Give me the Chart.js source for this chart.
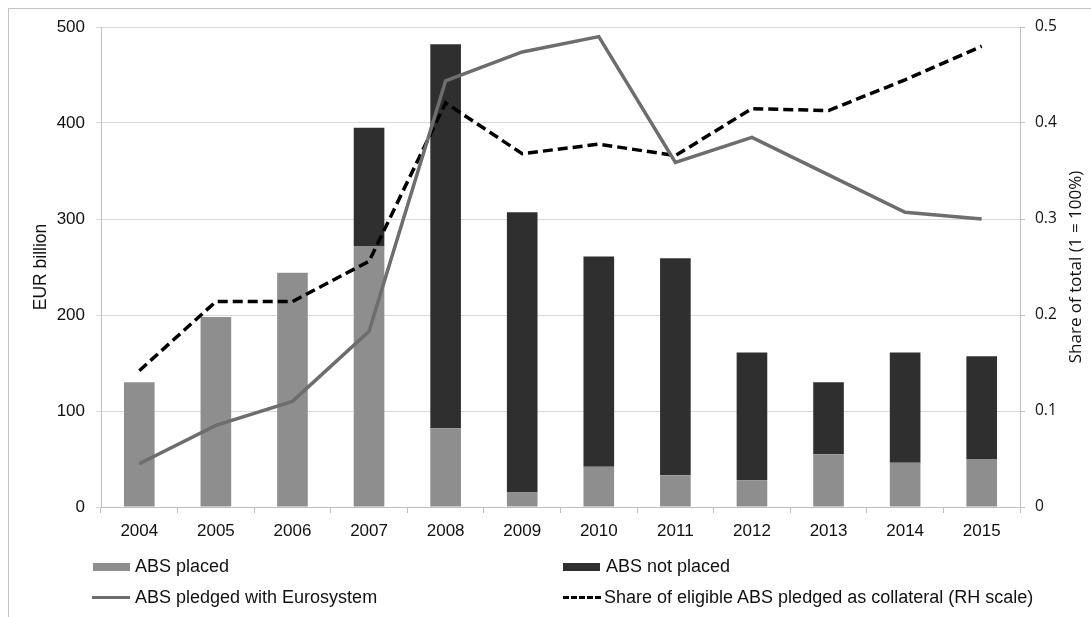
<!DOCTYPE html>
<html>
<head>
<meta charset="utf-8">
<script src="https://cdn.jsdelivr.net/npm/chart.js@4.4.0/dist/chart.umd.min.js"></script>
<style>
    body { margin: 0; background: #fff; }
    #wrap { position: relative; width: 1091px; height: 617px; overflow: hidden; }
    #frame { position: absolute; left: 8px; top: 8px; width: 1200px; height: 700px;
             border-top: 1px solid #c4c4c4; border-left: 1px solid #c4c4c4; }
    canvas { position: absolute; left: 0; top: 0; }
    .leg { position: absolute; font: 18px "Liberation Sans", Arial, sans-serif; color: #111;
           display: flex; align-items: center; white-space: nowrap; }
    .leg .box { width: 37px; height: 8px; margin-right: 5px; }
    .leg .ln { width: 38px; height: 0; margin-right: 5px; }
</style>
</head>
<body>
<div id="wrap">
    <div id="frame"></div>
    <canvas id="absChart" width="1091" height="617"></canvas>
    <div class="leg" style="left:93px; top:556px;"><span class="box" style="background:#8e8e8e"></span>ABS placed</div>
    <div class="leg" style="left:563px; top:556px;"><span class="box" style="background:#2f2f2f; margin-right:6px"></span>ABS not placed</div>
    <div class="leg" style="left:92px; top:587px;"><span class="ln" style="border-top:3px solid #6d6d6d"></span>ABS pledged with Eurosystem</div>
    <div class="leg" style="left:563px; top:587px;"><span class="ln" style="border-top:3px dashed #000; width:38px; margin-right:3px"></span>Share of eligible ABS pledged as collateral (RH scale)</div>
</div>
<script>
const years = ['2004', '2005', '2006', '2007', '2008', '2009', '2010', '2011', '2012', '2013', '2014', '2015'];
const absPlaced = [130, 198, 244, 272, 82, 15, 42, 33, 28, 55, 46, 50];
const absNotPlaced = [0, 0, 0, 123, 400, 292, 219, 226, 133, 75, 115, 107];
const absPledged = [45, 85, 110, 183, 444, 474, 490, 359, 385, 346, 307, 300];
const sharePledged = [0.142, 0.214, 0.214, 0.256, 0.421, 0.368, 0.378, 0.366, 0.415, 0.413, 0.445, 0.480];

const arial = '"Liberation Sans", Arial, sans-serif';
const openSans = '"Open Sans", sans-serif';

// titre de droite, lu de bas en haut
const rightTitle = {
    id: 'rightTitle',
    afterDraw(chart) {
        const { ctx, chartArea } = chart;
        ctx.save();
        ctx.translate(1076, (chartArea.top + chartArea.bottom) / 2);
        ctx.rotate(-Math.PI / 2);
        ctx.font = '17px ' + openSans;
        ctx.fillStyle = '#111';
        ctx.textAlign = 'center';
        ctx.textBaseline = 'middle';
        ctx.fillText('Share of total (1 = 100%)', 0, 0);
        ctx.restore();
    }
};

new Chart(document.getElementById('absChart').getContext('2d'), {
    data: {
        labels: years,
        datasets: [
            {
                type: 'line',
                label: 'ABS pledged with Eurosystem',
                data: absPledged,
                yAxisID: 'y',
                stack: 'pledged',
                borderColor: '#6d6d6d',
                borderWidth: 3.5,
                pointRadius: 0,
                tension: 0,
                order: 0
            },
            {
                type: 'line',
                label: 'Share of eligible ABS pledged as collateral (RH scale)',
                data: sharePledged,
                yAxisID: 'y1',
                borderColor: '#000',
                borderWidth: 3.5,
                borderDash: [10, 5],
                pointRadius: 0,
                tension: 0,
                order: 0
            },
            {
                type: 'bar',
                label: 'ABS placed',
                data: absPlaced,
                yAxisID: 'y',
                stack: 'abs',
                backgroundColor: '#8e8e8e',
                barPercentage: 0.4,
                categoryPercentage: 1,
                order: 1
            },
            {
                type: 'bar',
                label: 'ABS not placed',
                data: absNotPlaced,
                yAxisID: 'y',
                stack: 'abs',
                backgroundColor: '#2f2f2f',
                barPercentage: 0.4,
                categoryPercentage: 1,
                order: 1
            }
        ]
    },
    options: {
        responsive: false,
        animation: false,
        layout: { padding: { top: 27, bottom: 70, left: 0, right: 0 } },
        plugins: {
            legend: { display: false },
            tooltip: { enabled: false }
        },
        scales: {
            x: {
                stacked: true,
                offset: true,
                grid: { offset: true, drawOnChartArea: false, drawTicks: true, tickLength: 6, color: '#bfbfbf' },
                border: { color: '#bfbfbf' },
                ticks: { color: '#111', font: { family: arial, size: 17 }, padding: 8, maxRotation: 0 },
                afterFit: s => { s.height = 40; }
            },
            y: {
                position: 'left',
                stacked: true,
                min: 0,
                max: 500,
                ticks: { stepSize: 100, color: '#111', font: { family: arial, size: 17 }, padding: 11 },
                grid: { color: '#d9d9d9', tickLength: 5 },
                border: { color: '#bfbfbf' },
                title: { display: true, text: 'EUR billion', color: '#111', font: { family: arial, size: 17.5 }, padding: { top: 31, bottom: 0 } },
                afterFit: s => { s.width = 101; }
            },
            y1: {
                position: 'right',
                min: 0,
                max: 0.5,
                ticks: { stepSize: 0.1, color: '#111', font: { family: openSans, size: 15.5 }, padding: 10,
                         callback: v => String(+v.toFixed(1)) },
                grid: { drawOnChartArea: false, tickLength: 5, color: '#bfbfbf' },
                border: { color: '#bfbfbf' },
                afterFit: s => { s.width = 71; }
            }
        }
    },
    plugins: [rightTitle]
});
</script>
</body>
</html>
